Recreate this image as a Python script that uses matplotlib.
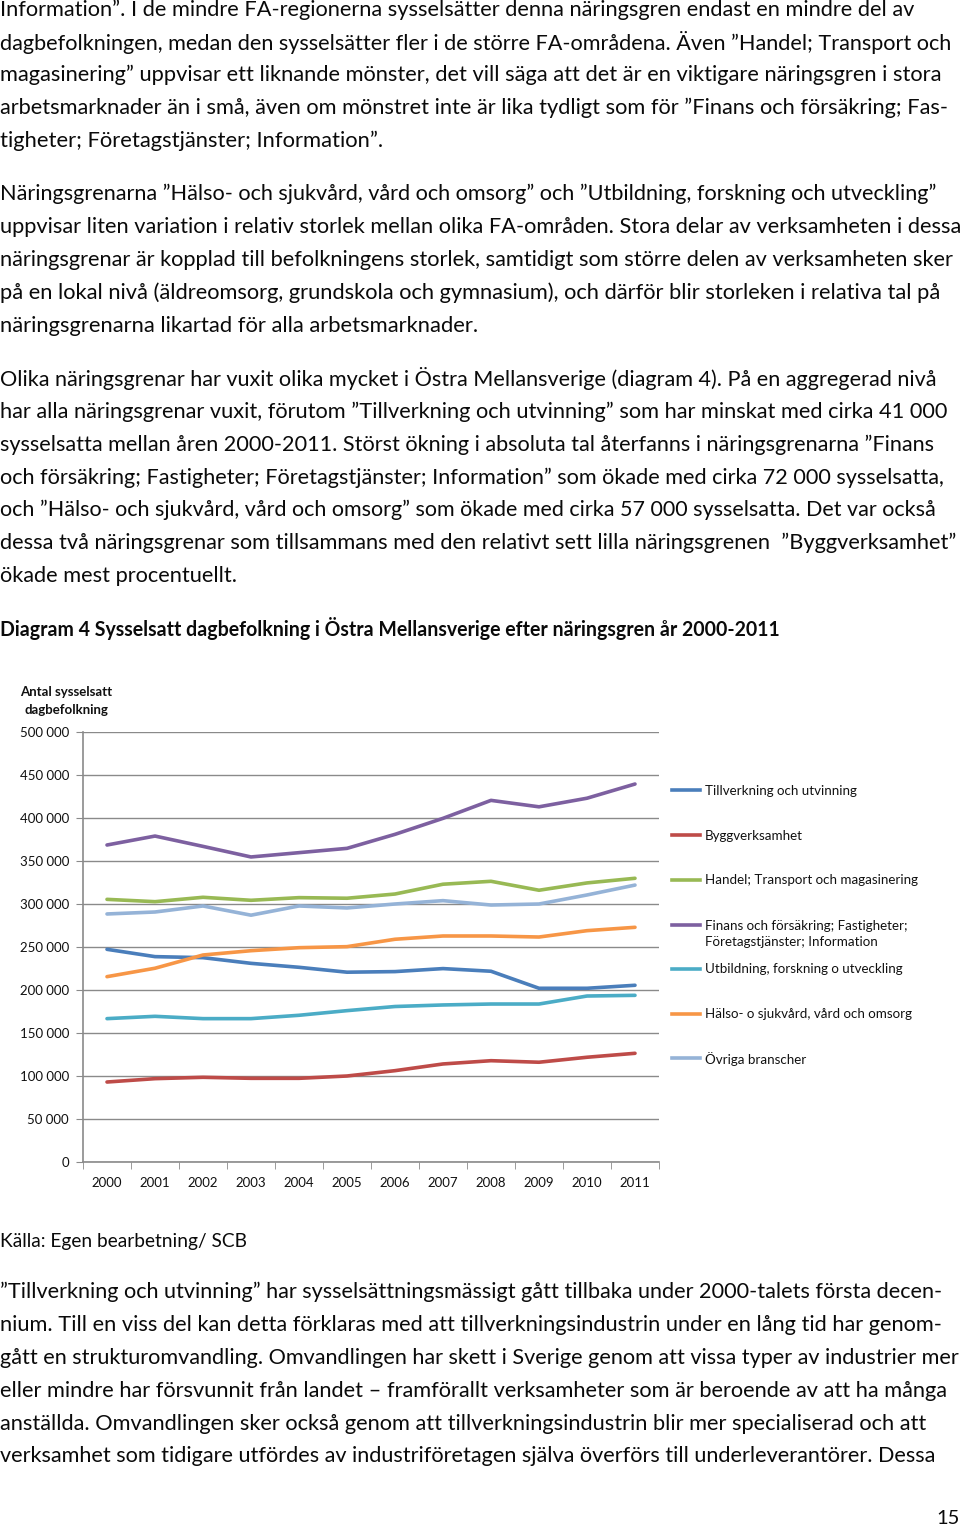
import matplotlib
matplotlib.use("Agg")
import matplotlib.pyplot as plt
from matplotlib.lines import Line2D
from matplotlib.ticker import FuncFormatter, MultipleLocator, FixedLocator

plt.rcParams['font.family'] = ['Lato', 'DejaVu Sans']

W, H = 960, 1529

years = ['2000', '2001', '2002', '2003', '2004', '2005', '2006', '2007', '2008', '2009', '2010', '2011']
tillverkning = [247300, 238800, 237600, 231000, 226400, 220700, 221400, 224900, 221800, 202000, 202000, 205500]
bygg = [93000, 96900, 98500, 97300, 97300, 100000, 106200, 114000, 117800, 116000, 121800, 126400]
handel = [305400, 302700, 307800, 304300, 307400, 306700, 311600, 323000, 326400, 316000, 324500, 329900]
finans = [368600, 379000, 367000, 354700, 359700, 364700, 381000, 399600, 420500, 413000, 423000, 439500]
utbildning = [166700, 169400, 166700, 166700, 170600, 176000, 180800, 182600, 183700, 183700, 193000, 193800]
halso = [215500, 225300, 240700, 245700, 249200, 250400, 259000, 262800, 262800, 261600, 269000, 272900]
ovriga = [288400, 290700, 297700, 287000, 297700, 295400, 300000, 303900, 298800, 300000, 310500, 322000]

serier = [tillverkning, bygg, handel, finans, utbildning, halso, ovriga]
namn = ['Tillverkning och utvinning', 'Byggverksamhet', 'Handel; Transport och magasinering',
        'Finans och försäkring; Fastigheter;\nFöretagstjänster; Information',
        'Utbildning, forskning o utveckling', 'Hälso- o sjukvård, vård och omsorg', 'Övriga branscher']
farger = ['#4A7EBB', '#BE4B48', '#98B954', '#7D60A0', '#4BACC6', '#F79646', '#95B3D7']

# page text: (line, y centre, right end in px)
stycke1 = [
    ("Information”. I de mindre FA-regionerna sysselsätter denna näringsgren endast en mindre del av", 10, 913),
    ("dagbefolkningen, medan den sysselsätter fler i de större FA-områdena. Även ”Handel; Transport och", 42, 950),
    ("magasinering” uppvisar ett liknande mönster, det vill säga att det är en viktigare näringsgren i stora", 75, 940),
    ("arbetsmarknader än i små, även om mönstret inte är lika tydligt som för ”Finans och försäkring; Fas-", 108, 946),
    ("tigheter; Företagstjänster; Information”.", 141, 382),
    ("Näringsgrenarna ”Hälso- och sjukvård, vård och omsorg” och ”Utbildning, forskning och utveckling”", 194, 937),
    ("uppvisar liten variation i relativ storlek mellan olika FA-områden. Stora delar av verksamheten i dessa", 227, 957),
    ("näringsgrenar är kopplad till befolkningens storlek, samtidigt som större delen av verksamheten sker", 260, 953),
    ("på en lokal nivå (äldreomsorg, grundskola och gymnasium), och därför blir storleken i relativa tal på", 293, 941),
    ("näringsgrenarna likartad för alla arbetsmarknader.", 326, 478),
    ("Olika näringsgrenar har vuxit olika mycket i Östra Mellansverige (diagram 4). På en aggregerad nivå", 379, 937),
    ("har alla näringsgrenar vuxit, förutom ”Tillverkning och utvinning” som har minskat med cirka 41 000", 412, 945),
    ("sysselsatta mellan åren 2000-2011. Störst ökning i absoluta tal återfanns i näringsgrenarna ”Finans", 445, 932),
    ("och försäkring; Fastigheter; Företagstjänster; Information” som ökade med cirka 72 000 sysselsatta,", 478, 942),
    ("och ”Hälso- och sjukvård, vård och omsorg” som ökade med cirka 57 000 sysselsatta. Det var också", 510, 934),
    ("dessa två näringsgrenar som tillsammans med den relativt sett lilla näringsgrenen  ”Byggverksamhet”", 543, 957),
    ("ökade mest procentuellt.", 576, 237),
]
stycke2 = [
    ("Källa: Egen bearbetning/ SCB", 1241, 247),
    ("”Tillverkning och utvinning” har sysselsättningsmässigt gått tillbaka under 2000-talets första decen-", 1292, 938),
    ("nium. Till en viss del kan detta förklaras med att tillverkningsindustrin under en lång tid har genom-", 1325, 938),
    ("gått en strukturomvandling. Omvandlingen har skett i Sverige genom att vissa typer av industrier mer", 1358, 957),
    ("eller mindre har försvunnit från landet – framförallt verksamheter som är beroende av att ha många", 1391, 947),
    ("anställda. Omvandlingen sker också genom att tillverkningsindustrin blir mer specialiserad och att", 1424, 923),
    ("verksamhet som tidigare utfördes av industriföretagen själva överförs till underleverantörer. Dessa", 1456, 935),
]
rubrik = "Diagram 4 Sysselsatt dagbefolkning i Östra Mellansverige efter näringsgren år 2000-2011"

fig = plt.figure(figsize=(W / 100, H / 100), dpi=100)
fig.patch.set_facecolor('white')
r = fig.canvas.get_renderer()


def rad(txt, x, y, x_slut, vikt='normal', bas=14.5):
    t = fig.text(x / W, 1 - y / H, txt, fontsize=bas, fontweight=vikt, color='#0a0a0a',
                 ha='left', va='center')
    b = t.get_window_extent(r).width
    t.set_fontsize(bas * (x_slut - x) / b)
    return t


for txt, y, xs in stycke1 + stycke2:
    rad(txt, 0, y, xs)
rad(rubrik, 0, 629, 778, vikt='bold')
fig.text(960 / W, 1 - 1519 / H, '15', fontsize=14.5, color='#0a0a0a', ha='right', va='center')

# chart
ax = fig.add_axes([83 / W, 1 - 1162 / H, 576 / W, 430 / H])
x = list(range(len(years)))
for s, f in zip(serier, farger):
    ax.plot(x, s, color=f, lw=2.6, solid_capstyle='round', zorder=3)

ax.set_xlim(-0.5, len(years) - 0.5)
ax.set_ylim(0, 500000)
ax.yaxis.set_major_locator(MultipleLocator(50000))
ax.yaxis.set_major_formatter(FuncFormatter(lambda v, p: f"{int(v):,}".replace(',', ' ')))
ax.grid(axis='y', color='#8a8a8a', lw=1)
ax.set_axisbelow(True)
ax.xaxis.set_major_locator(FixedLocator(x))
ax.set_xticklabels(years)
ax.xaxis.set_minor_locator(FixedLocator([i - 0.5 for i in range(len(years) + 1)]))
ax.tick_params(axis='x', which='major', length=0, pad=11, labelsize=9.5, labelcolor='#111111')
ax.tick_params(axis='x', which='minor', length=5, color='#8a8a8a', direction='out')
ax.tick_params(axis='y', length=5, color='#8a8a8a', labelsize=9.5, labelcolor='#111111', pad=5)
for k in ['top', 'right']:
    ax.spines[k].set_visible(False)
for k in ['left', 'bottom']:
    ax.spines[k].set_color('#8a8a8a')
    ax.spines[k].set_linewidth(1.2)

fig.text(66 / W, 1 - 692 / H, 'Antal sysselsatt', fontsize=9.5, fontweight='bold',
         ha='center', va='center', color='#111111')
fig.text(66 / W, 1 - 710 / H, 'dagbefolkning', fontsize=9.5, fontweight='bold',
         ha='center', va='center', color='#111111')

# legend, drawn by hand to keep the even 45 px pitch
leg_y = [790, 835, 880, 925, 969, 1014, 1058]
for yy, n, f in zip(leg_y, namn, farger):
    fig.add_artist(Line2D([672 / W, 700 / W], [1 - yy / H, 1 - yy / H], color=f, lw=2.6))
    fig.text(705 / W, 1 - (yy - 5.5) / H, n, fontsize=9.6, color='#111111', ha='left', va='top',
             linespacing=1.5)

fig.savefig('out.png', dpi=100, facecolor='white')
